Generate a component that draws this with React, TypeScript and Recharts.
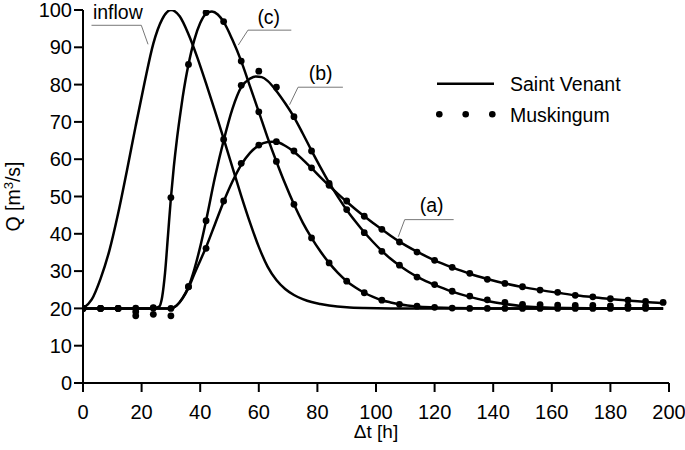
import { LineChart, Line, XAxis, YAxis, Legend, ReferenceLine, ReferenceDot, Label } from 'recharts';

const FONT = '"Liberation Sans", Arial, Helvetica, sans-serif';

// axis ticks
const xTicks = [0, 20, 40, 60, 80, 100, 120, 140, 160, 180, 200];
const yTicks = [0, 10, 20, 30, 40, 50, 60, 70, 80, 90, 100];

// Saint Venant solutions (solid lines)
const inflowTime = [0, 3, 6, 9, 12, 15, 18, 21, 24, 27, 30, 33, 36, 39, 42, 45, 48, 51, 54, 57, 60, 63, 66, 69, 72, 75, 78, 81, 84, 90, 96, 105, 120, 150, 198];
const inflowQ = [20, 22.4, 28, 35.5, 45.5, 57, 69, 80.5, 91, 97.5, 100, 98.3, 93.5, 87.3, 80.3, 73, 65.5, 57.8, 50.2, 43, 36.5, 31.2, 27.6, 25.2, 23.6, 22.5, 21.7, 21.2, 20.8, 20.3, 20.1, 20, 20, 20, 20];

const cTime = [0, 24, 26, 27, 28, 29, 30, 31, 32, 33, 34, 35, 36, 38, 40, 42, 44, 46, 48, 51, 54, 57, 60, 63, 66, 69, 72, 75, 78, 81, 84, 87, 90, 93, 96, 99, 102, 105, 108, 114, 120, 126, 140, 198];
const cQ = [20, 20, 20.5, 23, 29.5, 39.5, 49.6, 58, 65, 71, 76.5, 81.3, 85.4, 92, 96.5, 99, 99.6, 98.8, 96.8, 92, 86.3, 79.5, 72.7, 65.8, 59.4, 53.4, 47.9, 43, 38.9, 35.3, 32.2, 29.5, 27.3, 25.6, 24.2, 23.1, 22.2, 21.6, 21.1, 20.5, 20.25, 20.1, 20, 20];

const bTime = [0, 30, 32, 34, 36, 38, 40, 42, 45, 48, 51, 54, 57, 59, 61, 63, 66, 69, 72, 75, 78, 81, 84, 87, 90, 93, 96, 99, 102, 105, 108, 111, 114, 117, 120, 126, 132, 138, 144, 150, 156, 165, 180, 198];
const bQ = [20, 20, 20.8, 22.8, 25.8, 30.5, 36.5, 43.5, 55, 65, 73.5, 79.3, 81.6, 82.2, 82, 81, 78.3, 75, 71.3, 66.9, 62.3, 57.9, 53.7, 49.9, 46.4, 43.3, 40.4, 37.8, 35.4, 33.3, 31.5, 29.9, 28.5, 27.3, 26.3, 24.5, 23.1, 22, 21.2, 20.6, 20.3, 20.1, 20, 20];

const aTime = [0, 30, 32, 34, 36, 38, 40, 42, 45, 48, 51, 54, 57, 60, 63, 65, 67, 69, 72, 75, 78, 81, 84, 87, 90, 93, 96, 99, 102, 105, 108, 114, 120, 126, 132, 138, 144, 150, 156, 162, 168, 174, 180, 186, 192, 198];
const aQ = [20, 20, 20.8, 22.7, 25.5, 29.2, 32.8, 36.4, 42.5, 48.6, 54, 58.5, 61.7, 63.7, 64.6, 64.7, 64.4, 63.6, 62, 59.9, 57.6, 55.2, 52.9, 50.7, 48.6, 46.6, 44.7, 42.9, 41.2, 39.5, 37.9, 35.2, 32.9, 31, 29.3, 27.9, 26.7, 25.7, 24.9, 24.2, 23.5, 23, 22.5, 22.1, 21.7, 21.4];

// Muskingum results (dots), every 6 h
const mTime = [0, 6, 12, 18, 24, 30, 36, 42, 48, 54, 60, 66, 72, 78, 84, 90, 96, 102, 108, 114, 120, 126, 132, 138, 144, 150, 156, 162, 168, 174, 180, 186, 192, 198];
const mA = [20, 20, 20, 18, 18.4, 18, 25.8, 36.1, 48.8, 58.9, 63.8, 64.7, 62.2, 57.7, 53, 48.8, 44.7, 41.2, 37.8, 35.1, 32.9, 31, 29.4, 27.8, 26.7, 25.8, 24.9, 24.3, 23.5, 23.1, 22.6, 22.2, 21.9, 21.6];
const mB = [20, 20, 20, 19.1, 20.1, 20, 25.8, 43.5, 65.3, 79.8, 83.6, 79.3, 71.4, 62.2, 53.5, 46.5, 40.3, 35.3, 31.6, 28.4, 26.4, 24.6, 23.3, 22.3, 21.6, 21.1, 21, 20.9, 20.8, 20.8, 20.7, 20.7, 20.7];
const mC = [20, 20, 20, 20.1, 20.2, 49.7, 85.4, 99.3, 96.9, 86.3, 72.7, 59.4, 47.9, 38.9, 32.2, 27.3, 24.2, 22.2, 21.1, 20.6, 20.3, 20.1, 20, 20, 20, 20, 20, 20, 20, 20, 20, 20, 20];

const toPoints = (ts: number[], qs: number[]) => qs.map((q, i) => ({ t: ts[i], q }));

const solidSeries = [
  { key: 'inflow', data: toPoints(inflowTime, inflowQ) },
  { key: 'c', data: toPoints(cTime, cQ) },
  { key: 'b', data: toPoints(bTime, bQ) },
  { key: 'a', data: toPoints(aTime, aQ) },
];
const dotSeries = [
  { key: 'ma', data: toPoints(mTime, mA) },
  { key: 'mb', data: toPoints(mTime, mB) },
  { key: 'mc', data: toPoints(mTime, mC) },
];

// curve labels with leader lines (data coordinates)
const callouts = [
  { text: 'inflow', at: [11.9, 99.4], path: [[2.9, 95.9], [19.9, 95.9], [22.2, 90.8]] },
  { text: '(c)', at: [63.4, 98], path: [[71.1, 94.6], [56.3, 94.6], [53, 90.6]] },
  { text: '(b)', at: [81.1, 83], path: [[88.7, 79.3], [73.4, 79.3], [70.5, 74.6]] },
  { text: '(a)', at: [119, 47.7], path: [[126.5, 43.8], [109.8, 43.8], [107.6, 39.2]] },
];

const renderYLabel = ({ viewBox }: any) => {
  const cx = 20;
  const cy = viewBox.y + viewBox.height / 2;
  return (
    <text x={cx} y={cy} transform={`rotate(-90 ${cx} ${cy})`} textAnchor="middle" fontFamily={FONT} fontSize={19.5} fill="#000">
      Q [m<tspan dy={-7} fontSize={13}>3</tspan>
      <tspan dy={7}>/s]</tspan>
    </text>
  );
};

const renderXLabel = ({ viewBox }: any) => (
  <text x={viewBox.x + viewBox.width / 2} y={438} textAnchor="middle" fontFamily={FONT} fontSize={19} fill="#000">
    Δt [h]
  </text>
);

const renderLegend = () => (
  <svg width={200} height={60} style={{ display: 'block' }}>
    <line x1={1} x2={58} y1={13.7} y2={13.7} stroke="#000" strokeWidth={2.5} />
    <text x={74} y={21} fontFamily={FONT} fontSize={19.5} fill="#000">Saint Venant</text>
    {[3.3, 29.7, 56.3].map((cx) => (
      <circle key={cx} cx={cx} cy={44.3} r={3.3} fill="#000" />
    ))}
    <text x={74} y={51.7} fontFamily={FONT} fontSize={19.5} fill="#000">Muskingum</text>
  </svg>
);

const tickStyle = { fill: '#000', fontSize: 20, fontFamily: FONT };

export default function App() {
  return (
    <div style={{ width: 685, height: 450, background: '#fff' }}>
      <style>{'body{margin:0}'}</style>
      <LineChart width={685} height={450} margin={{ top: 10, right: 16, bottom: 27, left: 0 }}>
        <XAxis
          type="number"
          dataKey="t"
          domain={[0, 200]}
          ticks={xTicks}
          interval={0}
          height={40}
          tickSize={9}
          tickMargin={13}
          tick={tickStyle}
          tickLine={{ stroke: '#000', strokeWidth: 2 }}
          axisLine={{ stroke: '#000', strokeWidth: 2 }}
          allowDataOverflow
        >
          <Label content={renderXLabel} />
        </XAxis>
        <YAxis
          type="number"
          domain={[0, 100]}
          ticks={yTicks}
          interval={0}
          width={83}
          tickSize={9}
          tickMargin={2}
          tick={tickStyle}
          tickLine={{ stroke: '#000', strokeWidth: 2 }}
          axisLine={{ stroke: '#000', strokeWidth: 2 }}
          allowDataOverflow
        >
          <Label content={renderYLabel} />
        </YAxis>

        {callouts.map((c) => [
          <ReferenceLine
            key={c.text + '-u'}
            segment={[{ x: c.path[0][0], y: c.path[0][1] }, { x: c.path[1][0], y: c.path[1][1] }]}
            stroke="#777"
            strokeWidth={1}
          />,
          <ReferenceLine
            key={c.text + '-d'}
            segment={[{ x: c.path[1][0], y: c.path[1][1] }, { x: c.path[2][0], y: c.path[2][1] }]}
            stroke="#777"
            strokeWidth={1}
          />,
          <ReferenceDot
            key={c.text + '-t'}
            x={c.at[0]}
            y={c.at[1]}
            r={0.01}
            fill="none"
            stroke="none"
            label={{ value: c.text, position: 'center', fill: '#000', fontSize: 19.5, fontFamily: FONT }}
          />,
        ])}

        {solidSeries.map((s) => (
          <Line
            key={s.key}
            data={s.data}
            dataKey="q"
            type="monotone"
            stroke="#000"
            strokeWidth={2.5}
            dot={false}
            activeDot={false}
            isAnimationActive={false}
          />
        ))}
        {dotSeries.map((s) => (
          <Line
            key={s.key}
            data={s.data}
            dataKey="q"
            stroke="none"
            dot={{ r: 3.4, fill: '#000', stroke: 'none' }}
            activeDot={false}
            isAnimationActive={false}
          />
        ))}

        <Legend
          content={renderLegend}
          layout="vertical"
          align="center"
          verticalAlign="middle"
          wrapperStyle={{ left: 436, top: 70, width: 200, height: 60 }}
        />
      </LineChart>
    </div>
  );
}
